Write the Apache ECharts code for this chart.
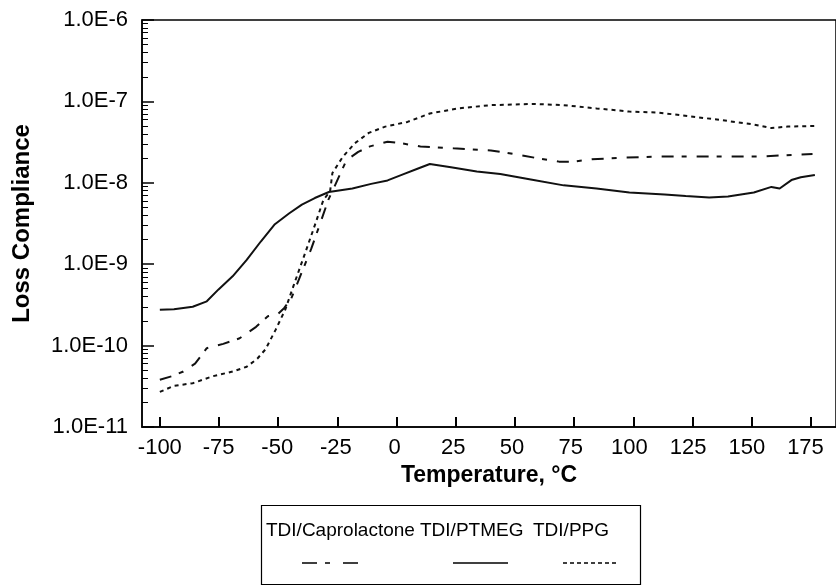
<!DOCTYPE html>
<html>
<head>
<meta charset="utf-8">
<script src="https://cdn.jsdelivr.net/npm/echarts@6/dist/echarts.min.js"></script>
<style>
  html, body { margin: 0; padding: 0; background: #fff; }
  #chart { width: 836px; height: 585px; }
</style>
</head>
<body>
<div id="chart"></div>
<script>
// temperature (°C) and loss compliance
var ptmegT = [-100, -94, -86, -80, -75, -69, -63, -57, -51, -45, -39.5, -34, -28, -18, -10, -3, 3, 10, 15, 24, 35, 45, 58, 72, 86, 100, 115, 124, 134, 142, 153, 160.5, 164, 169, 173, 179];
var ptmegV = [2.75e-10, 2.8e-10, 3.0e-10, 3.5e-10, 4.9e-10, 7.1e-10, 1.13e-9, 1.9e-9, 3.1e-9, 4.2e-9, 5.4e-9, 6.5e-9, 7.7e-9, 8.5e-9, 9.7e-9, 1.07e-8, 1.25e-8, 1.5e-8, 1.7e-8, 1.55e-8, 1.38e-8, 1.28e-8, 1.1e-8, 9.3e-9, 8.5e-9, 7.6e-9, 7.2e-9, 6.9e-9, 6.6e-9, 6.8e-9, 7.6e-9, 8.9e-9, 8.5e-9, 1.08e-8, 1.17e-8, 1.25e-8];

var caproT = [-100, -95, -90, -85, -80, -73, -66, -59, -54, -50, -47, -44, -40.5, -35.5, -32, -28.2, -26, -20.5, -15.5, -10.5, -3, 3, 11, 25, 41, 48, 55, 61, 70, 76, 84, 97, 111, 125, 141, 155, 169, 178];
var caproV = [3.8e-11, 4.2e-11, 4.8e-11, 6.0e-11, 9.3e-11, 1.05e-10, 1.23e-10, 1.7e-10, 2.3e-10, 2.4e-10, 2.9e-10, 3.8e-10, 6.8e-10, 1.55e-9, 3.0e-9, 6.2e-9, 8.5e-9, 1.9e-8, 2.4e-8, 2.8e-8, 3.2e-8, 3.05e-8, 2.8e-8, 2.65e-8, 2.5e-8, 2.33e-8, 2.15e-8, 2.0e-8, 1.82e-8, 1.82e-8, 1.95e-8, 2.03e-8, 2.1e-8, 2.1e-8, 2.1e-8, 2.1e-8, 2.2e-8, 2.26e-8];

var ppgT = [-100, -94, -86, -77.5, -69, -63, -58.5, -55, -50.7, -46.5, -43, -38, -34, -30.3, -27.5, -26.5, -22, -17, -11, -4, 5.5, 15, 27, 41, 59, 72, 86, 100, 112, 125, 139, 153, 160.5, 167.5, 179];
var ppgV = [2.7e-11, 3.2e-11, 3.45e-11, 4.2e-11, 4.8e-11, 5.5e-11, 6.9e-11, 9.0e-11, 1.56e-10, 2.8e-10, 5.5e-10, 1.4e-9, 3.0e-9, 6.2e-9, 7.8e-9, 1.32e-8, 2.1e-8, 3.05e-8, 4.1e-8, 4.9e-8, 5.6e-8, 7.1e-8, 8.2e-8, 9.0e-8, 9.3e-8, 9.0e-8, 8.2e-8, 7.5e-8, 7.3e-8, 6.6e-8, 5.9e-8, 5.2e-8, 4.7e-8, 4.9e-8, 5.0e-8];

var seriesNames = ["TDI/Caprolactone", "TDI/PTMEG", "TDI/PPG"];
var xTicks = [-100, -75, -50, -25, 0, 25, 50, 75, 100, 125, 150, 175];
var yTicks = [1e-11, 1e-10, 1e-9, 1e-8, 1e-7, 1e-6];
var yTickLabels = ["1.0E-11", "1.0E-10", "1.0E-9", "1.0E-8", "1.0E-7", "1.0E-6"];

var font = "'Liberation Sans', Arial, sans-serif";

function pairs(t, v) {
  return t.map(function (x, i) { return [x, v[i]]; });
}

// minor tick positions (2..9 x each decade), as log10 for the tick-only axis
var minorLog = [];
for (var e = -11; e < -6; e++) {
  for (var k = 2; k <= 9; k++) minorLog.push(e + Math.log10(k));
}

var xMin = -107.6, xMax = 188;
var gridLeft = 142, gridRight = -6, gridTop = 20, gridBottom = 158;

var chart = echarts.init(document.getElementById("chart"));

var legendGraphic = [
  { type: "rect", left: 259, top: 503, shape: { width: 379, height: 79 }, style: { fill: "none", stroke: "#000", lineWidth: 1.2 } },
  { type: "text", left: 266, top: 521, style: { text: seriesNames[0], font: "19px " + font, fill: "#000" } },
  { type: "text", left: 420, top: 521, style: { text: seriesNames[1], font: "19px " + font, fill: "#000" } },
  { type: "text", left: 533, top: 521, style: { text: seriesNames[2], font: "19px " + font, fill: "#000" } },
  { type: "line", shape: { x1: 302, y1: 563, x2: 359, y2: 563 }, style: { stroke: "#000", lineWidth: 1.5, lineDash: [15, 8, 5, 13] } },
  { type: "line", shape: { x1: 453, y1: 563, x2: 508, y2: 563 }, style: { stroke: "#000", lineWidth: 1.5 } },
  { type: "line", shape: { x1: 563, y1: 563, x2: 617, y2: 563 }, style: { stroke: "#000", lineWidth: 1.5, lineDash: [4, 3] } }
];

// x ticks pointing up from the bottom axis, spaced by the axis range
var plotW = 836 - gridLeft - gridRight;
var yBottom = 585 - gridBottom;
var tickMarks = xTicks.map(function (t) {
  var px = Math.round(gridLeft + (t - xMin) / (xMax - xMin) * plotW);
  return {
    type: "line",
    silent: true,
    z: 10,
    shape: { x1: px, y1: yBottom, x2: px, y2: yBottom - 10 },
    style: { stroke: "#000", lineWidth: 2 }
  };
});

var opt = {
  animation: false,
  grid: {
    left: gridLeft,
    top: gridTop,
    right: gridRight,
    bottom: gridBottom,
    show: true,
    borderColor: "#000",
    borderWidth: 1.5
  },
  xAxis: {
    type: "value",
    position: "bottom",
    min: xMin,
    max: xMax,
    name: "Temperature, °C",
    nameLocation: "middle",
    nameGap: 36,
    nameTextStyle: { fontFamily: font, fontSize: 23, fontWeight: "bold", color: "#000" },
    axisLine: { show: true, onZero: false, lineStyle: { color: "#000", width: 1.5 } },
    axisTick: { show: false },
    axisLabel: { customValues: xTicks, margin: 10, fontFamily: font, fontSize: 22, color: "#000" },
    splitLine: { show: false }
  },
  yAxis: [
    {
      type: "log",
      logBase: 10,
      position: "left",
      min: 1e-11,
      max: 1e-6,
      name: "Loss Compliance",
      nameLocation: "middle",
      nameGap: 108,
      nameTextStyle: { fontFamily: font, fontSize: 24, fontWeight: "bold", color: "#000" },
      axisLine: { show: true, onZero: false, lineStyle: { color: "#000", width: 1.5 } },
      axisTick: { show: true, inside: true, length: 12, lineStyle: { color: "#000", width: 1.5 } },
      axisLabel: {
        margin: 14,
        fontFamily: font,
        fontSize: 22,
        color: "#000",
        formatter: function (v) {
          var i = yTicks.findIndex(function (t) { return Math.abs(Math.log10(t) - Math.log10(v)) < 1e-6; });
          return i >= 0 ? yTickLabels[i] : "";
        }
      },
      splitLine: { show: false }
    },
    {
      // tick-only axis for the minor log ticks
      type: "value",
      position: "left",
      offset: 0,
      min: -11,
      max: -6,
      axisLine: { show: false, onZero: false },
      axisTick: { show: true, inside: true, length: 6, customValues: minorLog, lineStyle: { color: "#000", width: 1 } },
      axisLabel: { show: false },
      splitLine: { show: false }
    }
  ],
  graphic: legendGraphic.concat(tickMarks),
  series: [
    {
      name: seriesNames[0],
      type: "line",
      showSymbol: false,
      data: pairs(caproT, caproV),
      lineStyle: { color: "#111", width: 2, type: [12, 8, 5, 10] }
    },
    {
      name: seriesNames[1],
      type: "line",
      showSymbol: false,
      data: pairs(ptmegT, ptmegV),
      lineStyle: { color: "#111", width: 2, type: "solid" }
    },
    {
      name: seriesNames[2],
      type: "line",
      showSymbol: false,
      data: pairs(ppgT, ppgV),
      lineStyle: { color: "#111", width: 2, type: [4, 4] }
    }
  ]
};

chart.setOption(opt);
</script>
</body>
</html>
